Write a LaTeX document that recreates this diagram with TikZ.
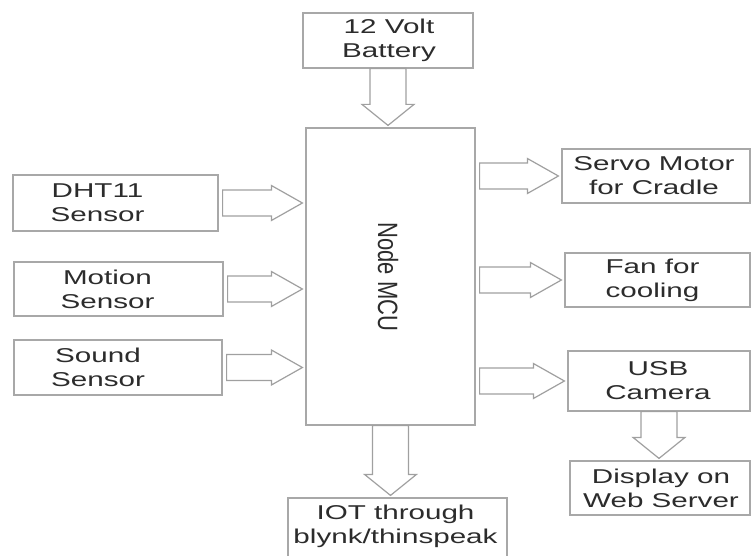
\documentclass[tikz,border=0pt]{standalone}
\usepackage{fontspec}
\setmainfont{Liberation Sans}
\newfontfamily\labfont[FakeStretch=1.48]{Liberation Sans}
\usetikzlibrary{calc}
\definecolor{boxline}{HTML}{A8A8A8}
\definecolor{arrline}{HTML}{A0A0A0}
\definecolor{txtcol}{HTML}{2C2C2C}
\tikzset{
  box/.style={draw=boxline, line width=1.2pt, fill=white, inner sep=0pt},
  txt/.style={text=txtcol, font=\labfont\fontsize{20}{24}\selectfont, align=center, inner sep=0pt},
  barrow/.style={draw=arrline, fill=white, line width=1.2pt, line join=miter}
}
\newcommand\rarr[3]{%
  \draw[barrow] let \p1=(#1.east), \p2=(#2.west), \p3=(#3) in
    (\x1+4pt,\y3+13pt) -- (\x2-34pt,\y3+13pt) -- (\x2-34pt,\y3+17.5pt) -- (\x2-3pt,\y3)
    -- (\x2-34pt,\y3-17.5pt) -- (\x2-34pt,\y3-13pt) -- (\x1+4pt,\y3-13pt) -- cycle;}
\newcommand\darr[2]{%
  \draw[barrow] let \p1=(#1.south), \p2=(#2.north) in
    (\x1-18pt,\y1) -- (\x1-18pt,\y2+23pt) -- (\x1-26pt,\y2+23pt) -- (\x1,\y2+2pt)
    -- (\x1+26pt,\y2+23pt) -- (\x1+18pt,\y2+23pt) -- (\x1+18pt,\y1) -- cycle;}
\begin{document}
\begin{tikzpicture}[x=1pt,y=-1pt]
\useasboundingbox (0,0) rectangle (752,556);
\fill[white] (0,0) rectangle (752,556);
% boxes
\node[box, minimum width=170pt, minimum height=55pt] (bat) at (388,40.5) {};
\node[box, minimum width=169pt, minimum height=297pt] (mcu) at (390.5,276.5) {};
\node[box, minimum width=205pt, minimum height=56pt] (dht) at (115.5,203) {};
\node[box, minimum width=209pt, minimum height=54pt] (mot) at (118.5,289) {};
\node[box, minimum width=208pt, minimum height=55pt] (snd) at (118,367.5) {};
\node[box, minimum width=188pt, minimum height=54pt] (srv) at (656,176) {};
\node[box, minimum width=185pt, minimum height=54pt] (fan) at (657.5,280) {};
\node[box, minimum width=182pt, minimum height=60pt] (usb) at (659,381) {};
\node[box, minimum width=180pt, minimum height=54pt] (dsp) at (660,488) {};
\node[box, minimum width=219pt, minimum height=64pt] (iot) at (397.5,530) {};
% texts
\node[txt] (batT) at (389,40.5) {12 Volt\\Battery};
\node[txt, rotate=-90, font=\fontsize{22}{26}\selectfont] (mcuT) at (388,277) {\scalebox{1}[1.27]{Node MCU}};
\node[txt] (dhtT) at ($(dht)+(-18,0)$) {DHT11\\Sensor};
\node[txt] (motT) at ($(mot)+(-11,0)$) {Motion\\Sensor};
\node[txt] (sndT) at ($(snd)+(-20,0)$) {Sound\\Sensor};
\node[txt] (srvT) at ($(srv)+(-2,0)$) {Servo Motor\\for Cradle};
\node[txt] (fanT) at ($(fan)+(-5,0)$) {Fan for\\cooling};
\node[txt] (usbT) at ($(usb)+(-1,0)$) {USB\\Camera};
\node[txt] (dspT) at ($(dsp)+(1,0)$) {Display on\\Web Server};
\node[txt] (iotT) at ($(iot)+(-2,-4)$) {IOT through\\blynk/thinspeak};
% arrows
\darr{bat}{mcu}
\darr{mcu}{iot}
\darr{usb}{dsp}
\rarr{dht}{mcu}{dht}
\rarr{mot}{mcu}{mot}
\rarr{snd}{mcu}{snd}
\rarr{mcu}{srv}{srv}
\rarr{mcu}{fan}{fan}
\rarr{mcu}{usb}{usb}
\end{tikzpicture}
\end{document}
